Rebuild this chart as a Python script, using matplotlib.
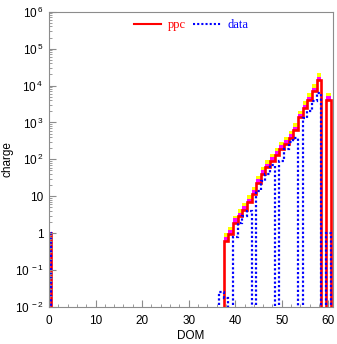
import numpy as np
import matplotlib
matplotlib.use("Agg")
import matplotlib.pyplot as plt
from matplotlib.ticker import FixedLocator, MultipleLocator, LogLocator, NullFormatter

plt.rcParams['font.family'] = ['Liberation Sans', 'DejaVu Sans']
plt.rcParams['mathtext.fontset'] = 'custom'
plt.rcParams['mathtext.rm'] = 'Liberation Sans'
plt.rcParams['mathtext.default'] = 'regular'

# ---- data (DOM bins 0..60) ----
dom = np.arange(0, 61)
ppc_bins = [0, 38, 39, 40, 41, 42, 43, 44, 45, 46, 47, 48, 49, 50, 51, 52, 53, 54, 55, 56, 57, 58, 60]
ppc_vals = [1, 0.63, 0.96, 1.9, 2.9, 4.3, 6.9, 11.5, 23, 41, 61, 92, 134, 190, 260, 380, 620, 1380, 2450, 4000, 6900, 14000, 4100]
ppc_mag_vals = [1, 0.8, 1.2, 2.5, 3.6, 5.4, 8.6, 14.4, 29, 51, 76, 115, 168, 238, 325, 475, 775, 1720, 3060, 5000, 8600, 17500, 5100]
ppc_yel_vals = [1, 1.0, 1.5, 3.0, 4.5, 6.7, 10.7, 18, 36, 64, 95, 143, 208, 295, 400, 590, 960, 2100, 3800, 6200, 10700, 22000, 6300]
data_bins = [0, 37, 38, 40, 41, 42, 43, 45, 46, 47, 48, 50, 51, 52, 53, 55, 56, 57, 58, 60]
data_vals = [1, 0.025, 0.017, 0.78, 1.86, 3.0, 4.1, 14, 26, 40, 72, 92, 190, 290, 390, 1300, 2100, 3900, 6100, 1]

ytick_vals = [1e-2, 1e-1, 1, 10, 1e2, 1e3, 1e4, 1e5, 1e6]
ytick_labels = ['10$^{\\,-2}$', '10$^{\\,-1}$', '1', '10', '10$^{\\,2}$', '10$^{\\,3}$',
                '10$^{\\,4}$', '10$^{\\,5}$', '10$^{\\,6}$']

TINY = 1e-6

def full(bins, vals):
    arr = np.full(len(dom), TINY)
    for b, v in zip(bins, vals):
        arr[b] = v
    return arr

ppc = full(ppc_bins, ppc_vals)
ppc_mag = full(ppc_bins, ppc_mag_vals)
ppc_yel = full(ppc_bins, ppc_yel_vals)
data = full(data_bins, data_vals)
edges = np.arange(-0.5, 61.0, 1.0)

fig = plt.figure(figsize=(3.37, 3.44), dpi=100)
ax = fig.add_axes([49/337, 1-307/344, (333-49)/337, (307-11.7)/344])

ax.stairs(ppc_yel, edges, baseline=ppc, fill=True, color='#ffff00', lw=0)
ax.stairs(ppc_mag, edges, baseline=ppc, fill=True, color='#ff00ff', lw=0)
ax.stairs(ppc, edges, baseline=TINY, color='#ff0000', lw=1.9, label='ppc')
ax.stairs(data, edges, baseline=TINY, color='#0000ff', lw=1.6, linestyle=(0, (1, 1)), label='data')

ax.set_yscale('log')
ax.set_xlim(0, 61)
ax.set_ylim(1e-2, 1e6)

ax.yaxis.set_major_locator(FixedLocator(ytick_vals))
ax.set_yticklabels(ytick_labels)
ax.yaxis.set_minor_locator(LogLocator(base=10, subs=np.arange(2, 10), numticks=20))
ax.yaxis.set_minor_formatter(NullFormatter())
ax.xaxis.set_major_locator(MultipleLocator(10))
ax.xaxis.set_minor_locator(MultipleLocator(2))

gray = '#8c8c8c'
for s in ax.spines.values():
    s.set_color(gray)
    s.set_linewidth(0.8)
ax.tick_params(which='both', direction='in', colors=gray, labelcolor='black', labelsize=8.5,
               top=False, right=False)
ax.tick_params(which='major', length=5, width=0.8)
ax.tick_params(which='minor', length=2.5, width=0.6)
ax.tick_params(axis='x', pad=6)
ax.tick_params(axis='y', pad=4)

ax.set_xlabel('DOM', fontsize=8.5, labelpad=2)
ax.set_ylabel('charge', fontsize=8.5)
ax.yaxis.set_label_coords(-0.125, 0.5)

h1, = ax.plot([], [], color='#ff0000', lw=1.5)
h2, = ax.plot([], [], color='#0000ff', lw=1.5, linestyle=(0, (1, 1)))
leg = ax.legend([h1, h2], ['ppc', 'data'], loc='upper center', bbox_to_anchor=(0.5, 1.0),
                ncol=2, frameon=False, prop={'family': 'Liberation Serif', 'size': 9},
                handlelength=2.2, handletextpad=0.5, columnspacing=0.6, borderaxespad=0.2)
leg.get_texts()[0].set_color('#ff0000')
leg.get_texts()[1].set_color('#0000ff')

fig.savefig('out.png', dpi=100)
